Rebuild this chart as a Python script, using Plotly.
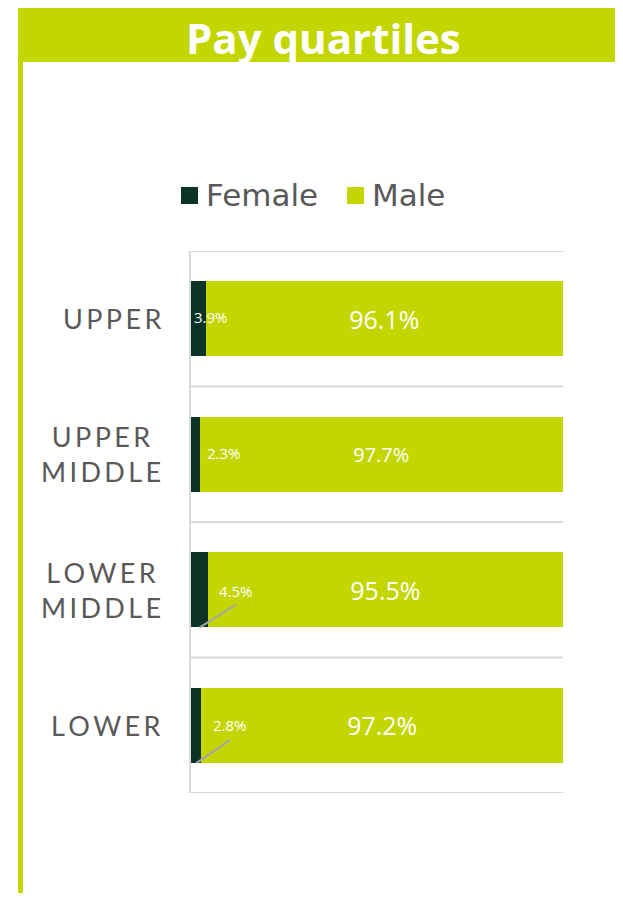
import plotly.graph_objects as go

# data (bottom to top)
quartiles = ["LOWER", "LOWER<br>MIDDLE", "UPPER<br>MIDDLE", "UPPER"]
female = [2.8, 4.5, 2.3, 3.9]
male = [97.2, 95.5, 97.7, 96.1]

LIME = "#c4d600"
DARK = "#0b3326"
GREY_TXT = "#595959"
GRID = "#d9d9d9"
FONT = "Open Sans"
LABEL_FONT = "Lato"
LEGEND_FONT = "DejaVu Sans"

# page body has an 8px margin, so the figure is a little smaller than the window
OFF = 8
W, H = 623 - OFF, 901 - 2 * OFF
L, T = 191 - OFF, 251 - OFF
R = W - (563 - OFF)
B = H - (793 - OFF)
PW, PH = W - L - R, H - T - B


def px_x(px):
    # window pixel -> paper x
    return (px - OFF - L) / PW


def px_y(py):
    # window pixel -> paper y
    return (H - B - (py - OFF)) / PH


def spaced(s):
    # mimic the letter spacing of the original labels
    return "<br>".join("\u2009".join(line) for line in s.split("<br>"))


fig = go.Figure()

fig.add_trace(go.Bar(
    y=quartiles, x=female, orientation="h", name="Female",
    marker=dict(color=DARK, line=dict(width=0)),
    hoverinfo="skip",
))
fig.add_trace(go.Bar(
    y=quartiles, x=male, orientation="h", name="Male",
    marker=dict(color=LIME, line=dict(width=0)),
    text=[f"{v:.1f}%" for v in male],
    textposition="inside", insidetextanchor="middle",
    textfont=dict(color="white", family=FONT, size=[25, 25, 20, 25]),
    textangle=0,
    hoverinfo="skip",
))

fig.update_layout(
    width=W, height=H,
    barmode="stack", bargap=0.445,
    showlegend=False,
    plot_bgcolor="white", paper_bgcolor="white",
    margin=dict(l=L, r=R, t=T, b=B),
    xaxis=dict(range=[0, 100], visible=False, fixedrange=True),
    yaxis=dict(showticklabels=False, showgrid=False, zeroline=False,
               showline=True, linecolor=GRID, linewidth=2,
               range=[-0.5, 3.5]),
)

# horizontal separators between quartiles
for b in [-0.5, 0.5, 1.5, 2.5, 3.5]:
    fig.add_shape(type="line", xref="x", yref="y", x0=0, x1=100, y0=b, y1=b,
                  line=dict(color=GRID, width=2), layer="below")

# category labels, centred lines like the original
for i, q in enumerate(quartiles):
    fig.add_annotation(x=0, y=i, xref="paper", yref="y", text=spaced(q),
                       xanchor="right", yanchor="middle", xshift=-28,
                       align="center", showarrow=False,
                       font=dict(family=LABEL_FONT, size=27, color=GREY_TXT))

# female labels, with leader lines where they sit outside the bar
label_dx = [7.7, 7.6, 6.6, 1.5]
label_dy = [0.0, -0.01, 0.01, 0.01]
for i, v in enumerate(female):
    fig.add_annotation(x=v + label_dx[i], y=i + label_dy[i], xref="x", yref="y",
                       text=f"{v:.1f}%", showarrow=False,
                       xanchor="center", yanchor="middle",
                       font=dict(family=FONT, size=15, color="white"))
for i in [0, 1]:
    v = female[i]
    fig.add_shape(type="line", xref="x", yref="y",
                  x0=v * 0.5, y0=i - 0.28, x1=v + label_dx[i], y1=i - 0.11,
                  line=dict(color="#a6a6a6", width=2))

# title banner and left rule
fig.add_shape(type="rect", xref="paper", yref="paper",
              x0=px_x(18), x1=px_x(640), y0=px_y(62), y1=px_y(0),
              fillcolor=LIME, line=dict(width=0))
fig.add_shape(type="rect", xref="paper", yref="paper",
              x0=px_x(18), x1=px_x(23), y0=px_y(910), y1=px_y(61),
              fillcolor=LIME, line=dict(width=0))
fig.add_annotation(x=px_x(323), y=px_y(37), xref="paper", yref="paper",
                   text="<b>Pay quartiles</b>", showarrow=False,
                   xanchor="center", yanchor="middle",
                   font=dict(family=FONT, size=42, color="white"))

# legend
legend_items = [("Female", DARK, 181), ("Male", LIME, 347)]
for name, col, x0 in legend_items:
    fig.add_shape(type="rect", xref="paper", yref="paper",
                  x0=px_x(x0), x1=px_x(x0 + 17), y0=px_y(204), y1=px_y(187),
                  fillcolor=col, line=dict(width=0))
    fig.add_annotation(x=px_x(x0 + 23), y=px_y(195), xref="paper", yref="paper",
                       text=name, showarrow=False,
                       xanchor="left", yanchor="middle",
                       font=dict(family=LEGEND_FONT, size=31, color=GREY_TXT))

fig.write_html("out.html")
